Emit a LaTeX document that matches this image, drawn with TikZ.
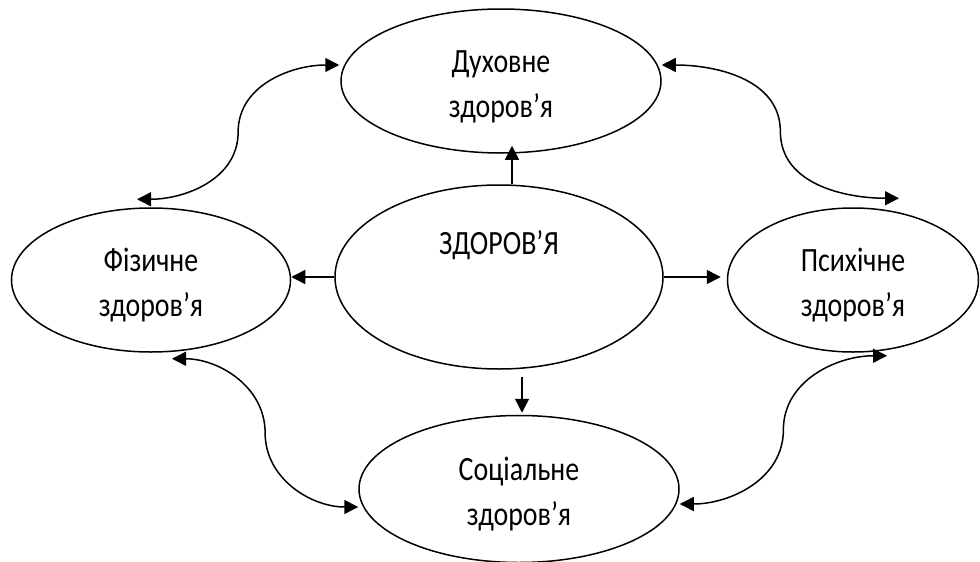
\documentclass[tikz,border=0pt]{standalone}
\usepackage{fontspec}
\setmainfont{Carlito}[FakeStretch=0.82]
\usetikzlibrary{arrows.meta,calc,shapes.geometric}
\newcommand\mytophold{\rule{0pt}{35pt}}
\newcommand\mybothold{\rule[-8pt]{0pt}{8pt}}
\begin{document}
\begin{tikzpicture}[x=1pt,y=-1pt,
  ell/.style={ellipse,draw,line width=1.5pt,inner sep=0pt,align=center,font=\fontsize{34}{45}\selectfont},
  arr/.style={line width=1.5pt,-{Triangle[length=14pt,width=14pt]}},
  darr/.style={line width=1.5pt,{Triangle[length=14pt,width=14pt]}-{Triangle[length=14pt,width=14pt]}}]
\useasboundingbox (0,0) rectangle (980,562);
\node[ell,minimum width=320pt,minimum height=144pt] (T) at (501,81) {\mytophold Духовне\\здоров’я\mybothold};
\node[ell,minimum width=279pt,minimum height=144pt] (L) at (151,280) {\mytophold Фізичне\\здоров’я\mybothold};
\node[ell,minimum width=328pt,minimum height=184pt] (C) at (499,277) {ЗДОРОВ’Я\rule[-68pt]{0pt}{24pt}};
\node[ell,minimum width=251pt,minimum height=144pt] (R) at (853,280) {\mytophold Психічне\\здоров’я\mybothold};
\node[ell,minimum width=320pt,minimum height=147pt] (B) at (519,489) {\mytophold Соціальне\\здоров’я\mybothold};
% straight arrows
\draw[arr] ([shift={(13,0)}]C.north) -- ([shift={(11,-8)}]T.south);
\draw[arr] (C.west) -- (C.west -| L.east);
\draw[arr] (C.east) -- ([xshift=-6pt]C.east -| R.west);
\draw[arr] ([shift={(23,7)}]C.south) -- ([shift={(3,-2)}]B.north);
% curved double arrows
\path ([shift={(-1,-16)}]T.west) coordinate (tl1)
      ([shift={(-14,-8)}]L.north) coordinate (tl2)
      ([shift={(0,-16)}]T.east) coordinate (tr1)
      ([shift={(46,-9)}]R.north) coordinate (tr2)
      ([shift={(21,6)}]L.south) coordinate (lb1)
      ([shift={(0,18)}]B.west) coordinate (lb2)
      ([shift={(34,3)}]R.south) coordinate (rb1)
      ([shift={(0,15)}]B.east) coordinate (rb2);
\draw[darr] (tl1) to[out=180,in=90] ($(tl1)!0.5!(tl2)$) to[out=-90,in=0] (tl2);
\draw[darr] (tr1) to[out=0,in=90] ($(tr1)!0.5!(tr2)$) to[out=-90,in=180] (tr2);
\draw[darr] (lb1) to[out=0,in=90] ($(lb1)!0.5!(lb2)$) to[out=-90,in=180] (lb2);
\draw[darr] (rb1) to[out=180,in=90] ($(rb1)!0.5!(rb2)$) to[out=-90,in=0] (rb2);
\end{tikzpicture}
\end{document}
